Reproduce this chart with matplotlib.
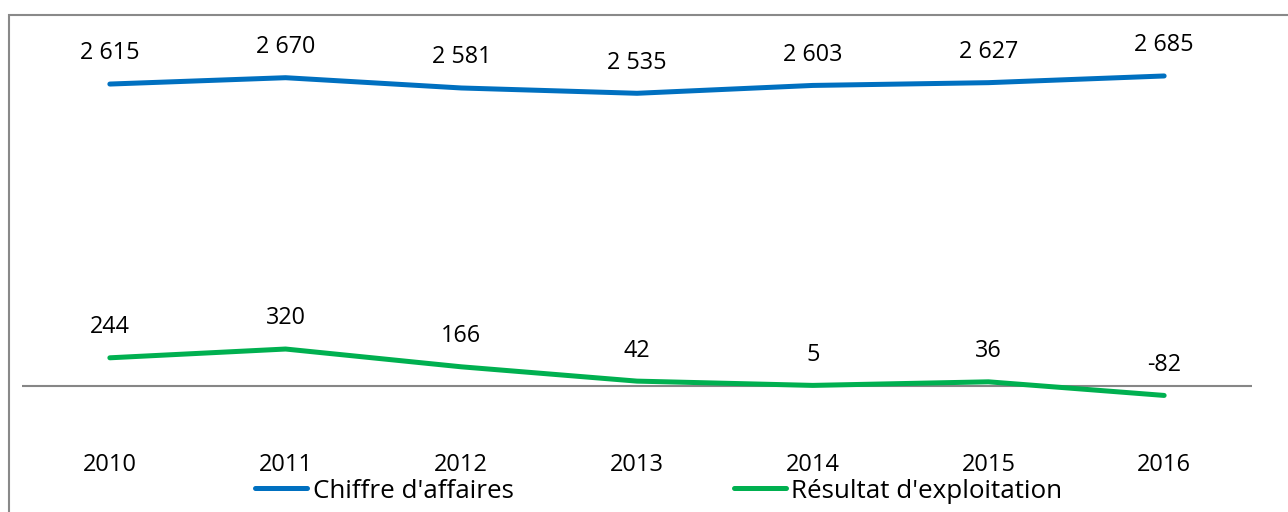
import matplotlib
matplotlib.use("Agg")
import matplotlib.pyplot as plt
from matplotlib.patches import Rectangle
from matplotlib.lines import Line2D

years = ["2010", "2011", "2012", "2013", "2014", "2015", "2016"]
chiffre_affaires = [2615, 2670, 2581, 2535, 2603, 2627, 2685]
resultat_exploitation = [244, 320, 166, 42, 5, 36, -82]
series_names = ["Chiffre d'affaires", "Résultat d'exploitation"]
colors = ["#0070C0", "#00B050"]

plt.rcParams['font.family'] = ['Open Sans', 'DejaVu Sans']

W, H = 1288, 512
fig = plt.figure(figsize=(W / 100, H / 100), dpi=100)
ax = fig.add_axes([22 / W, 1 - 443.7 / H, 1230 / W, (443.7 - 39.6) / H])

x = list(range(len(years)))
for vals, c, name in zip([chiffre_affaires, resultat_exploitation], colors, series_names):
    ax.plot(x, vals, color=c, lw=3.6, solid_capstyle='round', solid_joinstyle='round', label=name)
    for xi, v in zip(x, vals):
        ax.annotate(f"{v:,}".replace(",", " "), (xi, v), xytext=(0, 22),
                    textcoords='offset points', ha='center', va='center',
                    fontsize=16.8, color='black')

ax.axhline(0, color='#868686', lw=1.5, zorder=0)
ax.set_xlim(-0.5, len(years) - 0.5)
ax.set_ylim(-500, 3000)
ax.set_xticks(x)
ax.set_xticklabels(years, fontsize=17)
ax.tick_params(axis='x', length=0, pad=6.5)
ax.set_yticks([])
for s in ax.spines.values():
    s.set_visible(False)

handles = [Line2D([], [], color=c, lw=3.6, solid_capstyle='round') for c in colors]
fig.legend(handles, series_names, loc='center', ncol=2,
           bbox_to_anchor=((255 + 1063) / 2 / W, 1 - 491 / H),
           frameon=False, fontsize=18.7, handlelength=2.0, handletextpad=0.2,
           columnspacing=8.5, borderaxespad=0, borderpad=0)

fig.patches.append(Rectangle((9 / W, -0.2), 1.2, (512 - 15) / H + 0.2,
                             transform=fig.transFigure, fill=False,
                             edgecolor='#898989', lw=1.5))

fig.savefig("out.png", dpi=100)
